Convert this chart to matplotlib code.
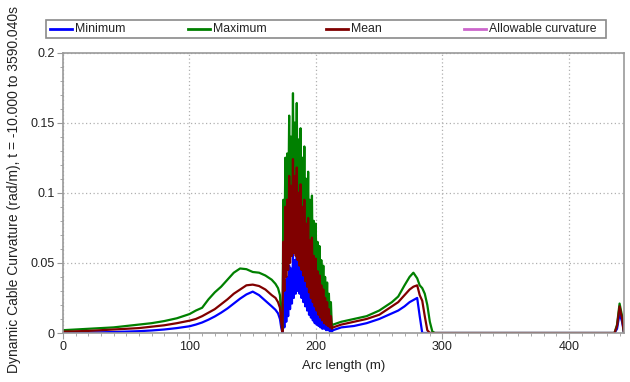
import matplotlib
matplotlib.use("Agg")
import matplotlib.pyplot as plt
from matplotlib.lines import Line2D
from matplotlib.patches import Rectangle
from matplotlib.ticker import MultipleLocator

plt.rcParams['font.family'] = ['Liberation Sans', 'DejaVu Sans']

# arc length (m), three parts: smooth lead-in, oscillating touchdown zone, tail
arc_lead = [0, 10, 20, 30, 40, 50, 60, 70, 80, 90, 100, 105, 110, 115, 120, 125,
            130, 135, 140, 145, 150, 155, 160, 165, 168, 170, 171.5, 172.5, 173.5]
arc_spike = [174.2, 175.0, 175.8, 176.5, 177.2, 178.0, 178.8, 179.5, 180.2, 181.0,
             181.8, 182.5, 183.2, 184.0, 184.8, 185.5, 186.2, 187.0, 187.8, 188.5,
             189.2, 190.0, 190.8, 191.5, 192.2, 193.0, 193.8, 194.5, 195.2, 196.0,
             196.8, 197.5, 198.2, 199.0, 199.8, 200.5, 201.2, 202.0, 202.8, 203.5,
             204.2, 205.0, 205.8, 206.5, 207.2, 208.0, 208.8, 209.5, 210.2, 211.0,
             211.8, 212.5]
arc_tail = [213.5, 220, 230, 240, 250, 260, 265, 270, 274, 277, 280, 282, 284, 286,
            288, 290, 292, 294, 300, 350, 400, 430, 436, 438, 440, 442, 443.5]

# curvature (rad/m)
max_lead = [0.002, 0.0025, 0.003, 0.0035, 0.004, 0.005, 0.006, 0.007, 0.0085, 0.0105,
            0.0135, 0.016, 0.018, 0.024, 0.029, 0.033, 0.038, 0.043, 0.046, 0.0455,
            0.0435, 0.043, 0.041, 0.038, 0.035, 0.032, 0.027, 0.012, 0.002]
max_spike = [0.095, 0.055, 0.125, 0.070, 0.128, 0.078, 0.155, 0.085, 0.140, 0.092,
             0.171, 0.095, 0.150, 0.092, 0.164, 0.088, 0.138, 0.082, 0.146, 0.078,
             0.125, 0.072, 0.133, 0.066, 0.110, 0.060, 0.115, 0.054, 0.095, 0.048,
             0.098, 0.042, 0.080, 0.037, 0.078, 0.032, 0.065, 0.027, 0.062, 0.023,
             0.052, 0.019, 0.048, 0.016, 0.040, 0.013, 0.036, 0.010, 0.028, 0.008,
             0.022, 0.005]
max_tail = [0.006, 0.008, 0.010, 0.012, 0.016, 0.022, 0.026, 0.034, 0.040, 0.043,
            0.039, 0.034, 0.032, 0.028, 0.020, 0.008, 0.001, 0, 0, 0, 0, 0, 0,
            0.006, 0.021, 0.012, 0]

mean_lead = [0.001, 0.0012, 0.0015, 0.002, 0.0025, 0.003, 0.0035, 0.0045, 0.0055, 0.007,
             0.0088, 0.010, 0.012, 0.0145, 0.017, 0.0205, 0.024, 0.028, 0.031, 0.034,
             0.0345, 0.0335, 0.031, 0.027, 0.025, 0.022, 0.018, 0.008, 0.001]
mean_spike = [0.065, 0.030, 0.090, 0.040, 0.095, 0.045, 0.112, 0.050, 0.105, 0.055,
              0.124, 0.057, 0.112, 0.055, 0.118, 0.052, 0.100, 0.048, 0.106, 0.045,
              0.090, 0.041, 0.095, 0.037, 0.078, 0.033, 0.082, 0.029, 0.066, 0.025,
              0.068, 0.022, 0.055, 0.019, 0.053, 0.016, 0.044, 0.013, 0.041, 0.011,
              0.034, 0.009, 0.031, 0.007, 0.025, 0.006, 0.022, 0.005, 0.017, 0.004,
              0.012, 0.003]
mean_tail = [0.004, 0.006, 0.008, 0.010, 0.013, 0.019, 0.022, 0.027, 0.031, 0.033,
             0.034, 0.027, 0.023, 0.012, 0.002, 0, 0, 0, 0, 0, 0, 0, 0,
             0.005, 0.019, 0.010, 0]

min_lead = [0.0003, 0.0003, 0.0004, 0.0005, 0.0007, 0.001, 0.0013, 0.0018, 0.0025, 0.0035,
            0.0048, 0.006, 0.0075, 0.0095, 0.0118, 0.0145, 0.0175, 0.021, 0.0245, 0.0275,
            0.0295, 0.027, 0.023, 0.019, 0.0165, 0.014, 0.010, 0.004, 0.0]
min_spike = [0.020, 0.004, 0.038, 0.008, 0.040, 0.012, 0.048, 0.017, 0.046, 0.021,
             0.056, 0.025, 0.052, 0.028, 0.058, 0.030, 0.050, 0.028, 0.053, 0.025,
             0.045, 0.022, 0.047, 0.019, 0.038, 0.016, 0.040, 0.013, 0.032, 0.011,
             0.032, 0.009, 0.026, 0.007, 0.025, 0.006, 0.020, 0.005, 0.018, 0.004,
             0.015, 0.003, 0.013, 0.003, 0.010, 0.002, 0.009, 0.002, 0.007, 0.001,
             0.005, 0.001]
min_tail = [0.002, 0.004, 0.005, 0.007, 0.010, 0.014, 0.016, 0.019, 0.022, 0.0235,
            0.025, 0.012, 0.0, 0, 0, 0, 0, 0, 0, 0, 0, 0, 0,
            0.003, 0.014, 0.008, 0]

legend_names = ['Minimum', 'Maximum', 'Mean', 'Allowable curvature']
legend_colors = ['#0000ff', '#008000', '#800000', '#cc66cc']

arc = arc_lead + arc_spike + arc_tail
curv_max = max_lead + max_spike + max_tail
curv_mean = mean_lead + mean_spike + mean_tail
curv_min = min_lead + min_spike + min_tail

fig = plt.figure(figsize=(6.3, 3.82), dpi=100)
ax = fig.add_axes([63 / 630, 1 - 333 / 382, 561 / 630, 280.5 / 382])

# drawn in legend order, mean ends up on top
ax.plot(arc, curv_min, color=legend_colors[0], lw=1.6)
ax.plot(arc, curv_max, color=legend_colors[1], lw=1.6)
ax.plot(arc, curv_mean, color=legend_colors[2], lw=1.6)

ax.set_xlim(0, 443.5)
ax.set_ylim(0, 0.2)
ax.xaxis.set_major_locator(MultipleLocator(100))
ax.xaxis.set_minor_locator(MultipleLocator(10))
ax.yaxis.set_major_locator(MultipleLocator(0.05))
ax.yaxis.set_minor_locator(MultipleLocator(0.01))
ax.set_yticks([0, 0.05, 0.1, 0.15, 0.2])
ax.set_yticklabels(['0', '0.05', '0.1', '0.15', '0.2'])

ax.grid(True, which='major', color='#b0b0b0', linestyle=(0, (1, 2)), linewidth=0.9)
for s in ax.spines.values():
    s.set_color('#9a9a9a')
    s.set_linewidth(1.2)
ax.tick_params(which='major', length=4, color='#9a9a9a', labelsize=9,
               labelcolor='#222222', pad=2)
ax.tick_params(which='minor', length=2.5, color='#9a9a9a')

ax.set_xlabel('Arc length (m)', fontsize=9.5, color='#222222', labelpad=5)
ax.set_ylabel('Dynamic Cable Curvature (rad/m), t = -10.000 to 3590.040s',
              fontsize=10, color='#222222')
ax.yaxis.set_label_coords(-0.074, 0.51)

# legend strip above the plot
fig.add_artist(Rectangle((46 / 630, 1 - 38 / 382), 560 / 630, 18 / 382,
                         transform=fig.transFigure, facecolor='white',
                         edgecolor='#8a8a8a', lw=1.2))
for k, (name, col) in enumerate(zip(legend_names, legend_colors)):
    x0 = 50 + 138 * k
    fig.add_artist(Line2D([x0 / 630, (x0 + 22) / 630], [1 - 29 / 382, 1 - 29 / 382],
                          transform=fig.transFigure, color=col, lw=2))
    fig.text((x0 + 25) / 630, 1 - 29.5 / 382, name, fontsize=8.8, color='#222222',
             va='center', ha='left')

fig.savefig('out.png', dpi=100)
